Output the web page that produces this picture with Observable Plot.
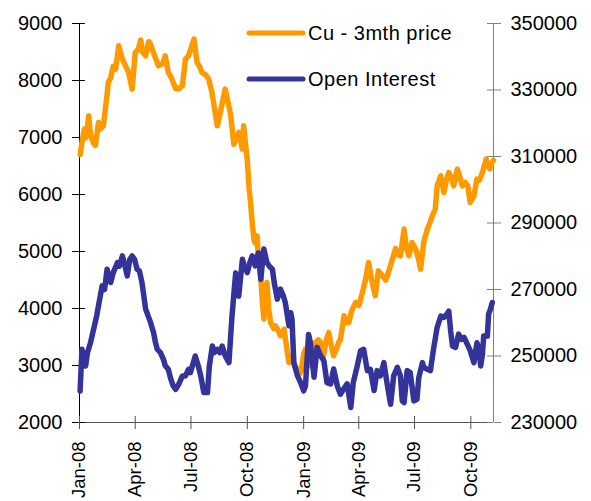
<!DOCTYPE html>
<html>
<head>
<meta charset="utf-8">
<script src="https://cdn.jsdelivr.net/npm/d3@7"></script>
<script src="https://cdn.jsdelivr.net/npm/@observablehq/plot@0.6"></script>
<style>
  html, body { margin: 0; padding: 0; background: #fff; }
  #wrap { position: relative; width: 591px; height: 501px; overflow: hidden; background: #fff; }
  #legend { position: absolute; left: 0; top: 0; }
</style>
</head>
<body>
<div id="wrap"></div>
<script>
// ---------- data ----------
const seriesNames = ["Cu - 3mth price", "Open Interest"];
const seriesColors = ["#FF9900", "#333399"];

const cuDates = ["2008-01-02","2008-01-05","2008-01-09","2008-01-12","2008-01-16","2008-01-19","2008-01-24","2008-01-27","2008-02-01","2008-02-04","2008-02-09","2008-02-15","2008-02-17","2008-02-21","2008-02-25","2008-02-29","2008-03-05","2008-03-11","2008-03-16","2008-03-21","2008-03-27","2008-04-01","2008-04-06","2008-04-10","2008-04-13","2008-04-18","2008-04-23","2008-04-26","2008-05-02","2008-05-09","2008-05-16","2008-05-20","2008-05-25","2008-05-30","2008-06-06","2008-06-11","2008-06-17","2008-06-22","2008-06-27","2008-07-02","2008-07-06","2008-07-11","2008-07-15","2008-07-19","2008-07-25","2008-07-30","2008-08-04","2008-08-07","2008-08-13","2008-08-18","2008-08-23","2008-08-26","2008-08-31","2008-09-04","2008-09-09","2008-09-13","2008-09-17","2008-09-23","2008-09-25","2008-10-01","2008-10-04","2008-10-06","2008-10-09","2008-10-12","2008-10-14","2008-10-17","2008-10-19","2008-10-23","2008-10-25","2008-10-28","2008-10-31","2008-11-02","2008-11-05","2008-11-08","2008-11-13","2008-11-16","2008-11-21","2008-11-24","2008-11-30","2008-12-05","2008-12-08","2008-12-12","2008-12-17","2008-12-21","2008-12-25","2008-12-28","2009-01-01","2009-01-04","2009-01-07","2009-01-12","2009-01-15","2009-01-20","2009-01-25","2009-01-29","2009-02-02","2009-02-07","2009-02-11","2009-02-15","2009-02-19","2009-02-24","2009-02-27","2009-03-02","2009-03-08","2009-03-12","2009-03-16","2009-03-20","2009-03-27","2009-04-01","2009-04-07","2009-04-12","2009-04-17","2009-04-22","2009-04-28","2009-05-03","2009-05-08","2009-05-15","2009-05-20","2009-05-26","2009-05-31","2009-06-03","2009-06-08","2009-06-14","2009-06-18","2009-06-22","2009-06-27","2009-07-03","2009-07-08","2009-07-11","2009-07-16","2009-07-22","2009-07-26","2009-07-30","2009-08-04","2009-08-07","2009-08-13","2009-08-18","2009-08-22","2009-08-26","2009-08-30","2009-09-03","2009-09-09","2009-09-12","2009-09-17","2009-09-22","2009-09-26","2009-09-30","2009-10-06","2009-10-11","2009-10-15","2009-10-20","2009-10-23","2009-10-26","2009-10-28","2009-11-01","2009-11-04","2009-11-07"];
const cuValues = [6700,6912,7150,7000,7380,7050,6900,6860,7263,7150,7205,7750,7965,8050,8250,8200,8609,8375,8260,8150,7849,8491,8550,8710,8500,8433,8680,8638,8450,8258,8300,8433,8140,8050,7860,7850,7907,8375,8433,8600,8726,8316,8250,8140,8100,8024,7800,7614,7205,7439,7700,7849,7600,7381,6880,7000,7088,6795,7205,6600,6100,5900,5509,5200,5150,5275,4900,4574,4200,3814,4300,4456,4000,3754,3650,3696,3600,3521,3638,3260,3053,3170,3000,2950,2850,2900,3200,3290,3100,2995,3300,3404,3450,3400,3140,3450,3579,3350,3170,3300,3404,3450,3872,3750,3754,3950,4105,4050,4281,4500,4807,4500,4223,4660,4600,4500,4650,4866,5050,4950,4925,5393,5050,4925,5158,5042,4850,4691,5158,5393,5500,5626,5743,6152,6328,6035,6250,6386,6300,6152,6445,6350,6152,6210,6150,5860,5977,6270,6250,6386,6500,6620,6550,6450,6550,6600];

const oiDates = ["2008-01-02","2008-01-05","2008-01-08","2008-01-11","2008-01-14","2008-01-19","2008-01-24","2008-01-29","2008-02-01","2008-02-07","2008-02-11","2008-02-15","2008-02-21","2008-02-25","2008-03-03","2008-03-06","2008-03-11","2008-03-14","2008-03-19","2008-03-23","2008-03-27","2008-03-31","2008-04-04","2008-04-08","2008-04-12","2008-04-18","2008-04-26","2008-05-01","2008-05-04","2008-05-07","2008-05-12","2008-05-17","2008-05-20","2008-05-25","2008-05-29","2008-06-02","2008-06-06","2008-06-11","2008-06-17","2008-06-22","2008-06-27","2008-06-30","2008-07-08","2008-07-13","2008-07-17","2008-07-22","2008-07-28","2008-07-31","2008-08-05","2008-08-08","2008-08-13","2008-08-17","2008-08-21","2008-08-26","2008-09-01","2008-09-06","2008-09-12","2008-09-17","2008-09-23","2008-09-26","2008-10-01","2008-10-05","2008-10-09","2008-10-14","2008-10-19","2008-10-23","2008-10-28","2008-11-02","2008-11-06","2008-11-11","2008-11-14","2008-11-19","2008-11-24","2008-11-29","2008-12-02","2008-12-08","2008-12-11","2008-12-13","2008-12-16","2008-12-19","2008-12-22","2008-12-27","2009-01-01","2009-01-04","2009-01-09","2009-01-12","2009-01-18","2009-01-23","2009-01-29","2009-02-03","2009-02-08","2009-02-14","2009-02-19","2009-02-25","2009-03-02","2009-03-07","2009-03-13","2009-03-19","2009-03-23","2009-03-29","2009-04-04","2009-04-09","2009-04-15","2009-04-20","2009-04-26","2009-05-01","2009-05-06","2009-05-12","2009-05-17","2009-05-23","2009-05-28","2009-06-03","2009-06-08","2009-06-11","2009-06-14","2009-06-19","2009-06-24","2009-06-30","2009-07-05","2009-07-08","2009-07-14","2009-07-16","2009-07-22","2009-07-27","2009-08-01","2009-08-07","2009-08-13","2009-08-18","2009-08-23","2009-08-26","2009-08-29","2009-09-01","2009-09-06","2009-09-11","2009-09-16","2009-09-20","2009-09-24","2009-09-30","2009-10-06","2009-10-11","2009-10-14","2009-10-17","2009-10-20","2009-10-22","2009-10-28","2009-10-30","2009-11-02","2009-11-05"];
const oiValues = [239500,252000,249000,247000,251000,254000,258000,262000,265100,271100,270000,276100,272100,275000,278100,277000,280100,278000,274100,279000,280100,279000,276100,275500,272100,264100,260100,257000,254100,252000,251100,249000,247100,246000,243100,241000,240000,241500,244000,244000,246000,245000,250000,247000,244000,239000,239000,247000,253000,251000,252000,251000,253000,250000,248000,262000,275000,268000,279100,277000,275100,278000,280100,277100,281000,273100,282200,278100,277000,276100,272000,267100,270100,268000,266100,259100,263000,261000,248000,246000,244000,242000,239500,241000,256500,254000,243600,252600,250000,248600,242000,241600,246100,241000,238500,240000,241600,234500,242000,246600,251600,252000,245600,246000,239600,245600,244000,248000,242000,235500,244000,246600,244000,236500,236000,245600,245000,236500,237000,243500,248000,246600,246000,245600,252000,258600,262000,261600,262600,263500,257600,253000,252600,256600,255000,255600,254000,251600,248000,254000,252000,247000,250600,256000,256000,262600,264100,266100];

const leftTicks = [2000, 3000, 4000, 5000, 6000, 7000, 8000, 9000];
const rightTicks = [230000, 250000, 270000, 290000, 310000, 330000, 350000];
const monthTicks = ["2008-01-01","2008-04-01","2008-07-01","2008-10-01","2009-01-01","2009-04-01","2009-07-01","2009-10-01"];
const monthLabels = ["Jan-08","Apr-08","Jul-08","Oct-08","Jan-09","Apr-09","Jul-09","Oct-09"];
const xDomain = ["2008-01-01", "2009-11-07"];
const cuDomain = [2000, 9000];
const oiDomain = [230000, 350000];

// ---------- build ----------
const W = 591, H = 501;
const mL = 79, mR = 98, mT = 23, mB = 79;
const frameW = W - mL - mR, frameH = H - mT - mB;
const FONT = "'Liberation Sans', Arial, sans-serif";

const toCu = v => cuDomain[0] + (v - oiDomain[0]) / (oiDomain[1] - oiDomain[0]) * (cuDomain[1] - cuDomain[0]);
const fromCu = v => oiDomain[0] + (v - cuDomain[0]) / (cuDomain[1] - cuDomain[0]) * (oiDomain[1] - oiDomain[0]);

const cuData = cuDates.map((d, i) => ({date: new Date(d), value: cuValues[i]}));
const oiData = oiDates.map((d, i) => ({date: new Date(d), value: oiValues[i]}));
const monthDates = monthTicks.map(d => new Date(d));
const rightTicksCu = rightTicks.map(toCu);
const xStart = new Date(xDomain[0]), xEnd = new Date(xDomain[1]);

const chart = Plot.plot({
  width: W, height: H,
  marginLeft: mL, marginRight: mR, marginTop: mT, marginBottom: mB,
  x: {type: "utc", domain: [xStart, xEnd]},
  y: {domain: cuDomain},
  style: {fontFamily: FONT, fontSize: "20px", color: "#000", background: "#fff", overflow: "visible"},
  marks: [
    // axis lines
    Plot.ruleX([xStart], {stroke: "#000", strokeWidth: 1}),
    Plot.ruleX([xEnd], {stroke: "#808080", strokeWidth: 1}),
    Plot.ruleY([cuDomain[0]], {stroke: "#555", strokeWidth: 1}),
    // left axis
    Plot.axisY(leftTicks, {anchor: "left", tickSize: 7, tickPadding: 10, label: null,
      tickFormat: d => String(d), stroke: "#000", fill: "#000"}),
    Plot.tickY(leftTicks, {y: d => d, insetRight: frameW - 6, stroke: "#000"}),
    // right axis
    Plot.axisY(rightTicksCu, {anchor: "right", tickSize: 7, tickPadding: 10, label: null,
      tickFormat: d => String(Math.round(fromCu(d))), stroke: "#808080", fill: "#000"}),
    Plot.tickY(rightTicksCu, {y: d => d, insetLeft: frameW - 6, stroke: "#808080"}),
    // bottom axis
    Plot.axisX(monthDates, {anchor: "bottom", tickSize: 7, tickPadding: 12, tickRotate: -90, label: null,
      fontSize: 18.5,
      tickFormat: d => monthLabels[monthDates.findIndex(t => +t === +d)], stroke: "#555", fill: "#000"}),
    Plot.tickX(monthDates, {x: d => d, insetTop: frameH - 6, stroke: "#555"}),
    // series
    Plot.line(cuData, {x: "date", y: "value", stroke: seriesColors[0], strokeWidth: 5.5,
      strokeLinejoin: "round", strokeLinecap: "round"}),
    Plot.line(oiData, {x: "date", y: d => toCu(d.value), stroke: seriesColors[1], strokeWidth: 5.5,
      strokeLinejoin: "round", strokeLinecap: "round"})
  ]
});

const wrap = document.getElementById("wrap");
wrap.appendChild(chart);

// legend (overlay inside chart area, as in the original)
const legendRows = [33, 79];
const ns = "http://www.w3.org/2000/svg";
const leg = document.createElementNS(ns, "svg");
leg.setAttribute("id", "legend");
leg.setAttribute("width", W);
leg.setAttribute("height", 110);
seriesNames.forEach((name, i) => {
  const y = legendRows[i];
  const ln = document.createElementNS(ns, "line");
  ln.setAttribute("x1", 249); ln.setAttribute("x2", 303);
  ln.setAttribute("y1", y); ln.setAttribute("y2", y);
  ln.setAttribute("stroke", seriesColors[i]);
  ln.setAttribute("stroke-width", 5);
  ln.setAttribute("stroke-linecap", "round");
  leg.appendChild(ln);
  const t = document.createElementNS(ns, "text");
  t.setAttribute("x", 308); t.setAttribute("y", y + 7);
  t.setAttribute("font-family", FONT);
  t.setAttribute("font-size", 20);
  t.setAttribute("letter-spacing", 0.5);
  t.setAttribute("fill", "#000");
  t.textContent = name;
  leg.appendChild(t);
});
wrap.appendChild(leg);
</script>
</body>
</html>
